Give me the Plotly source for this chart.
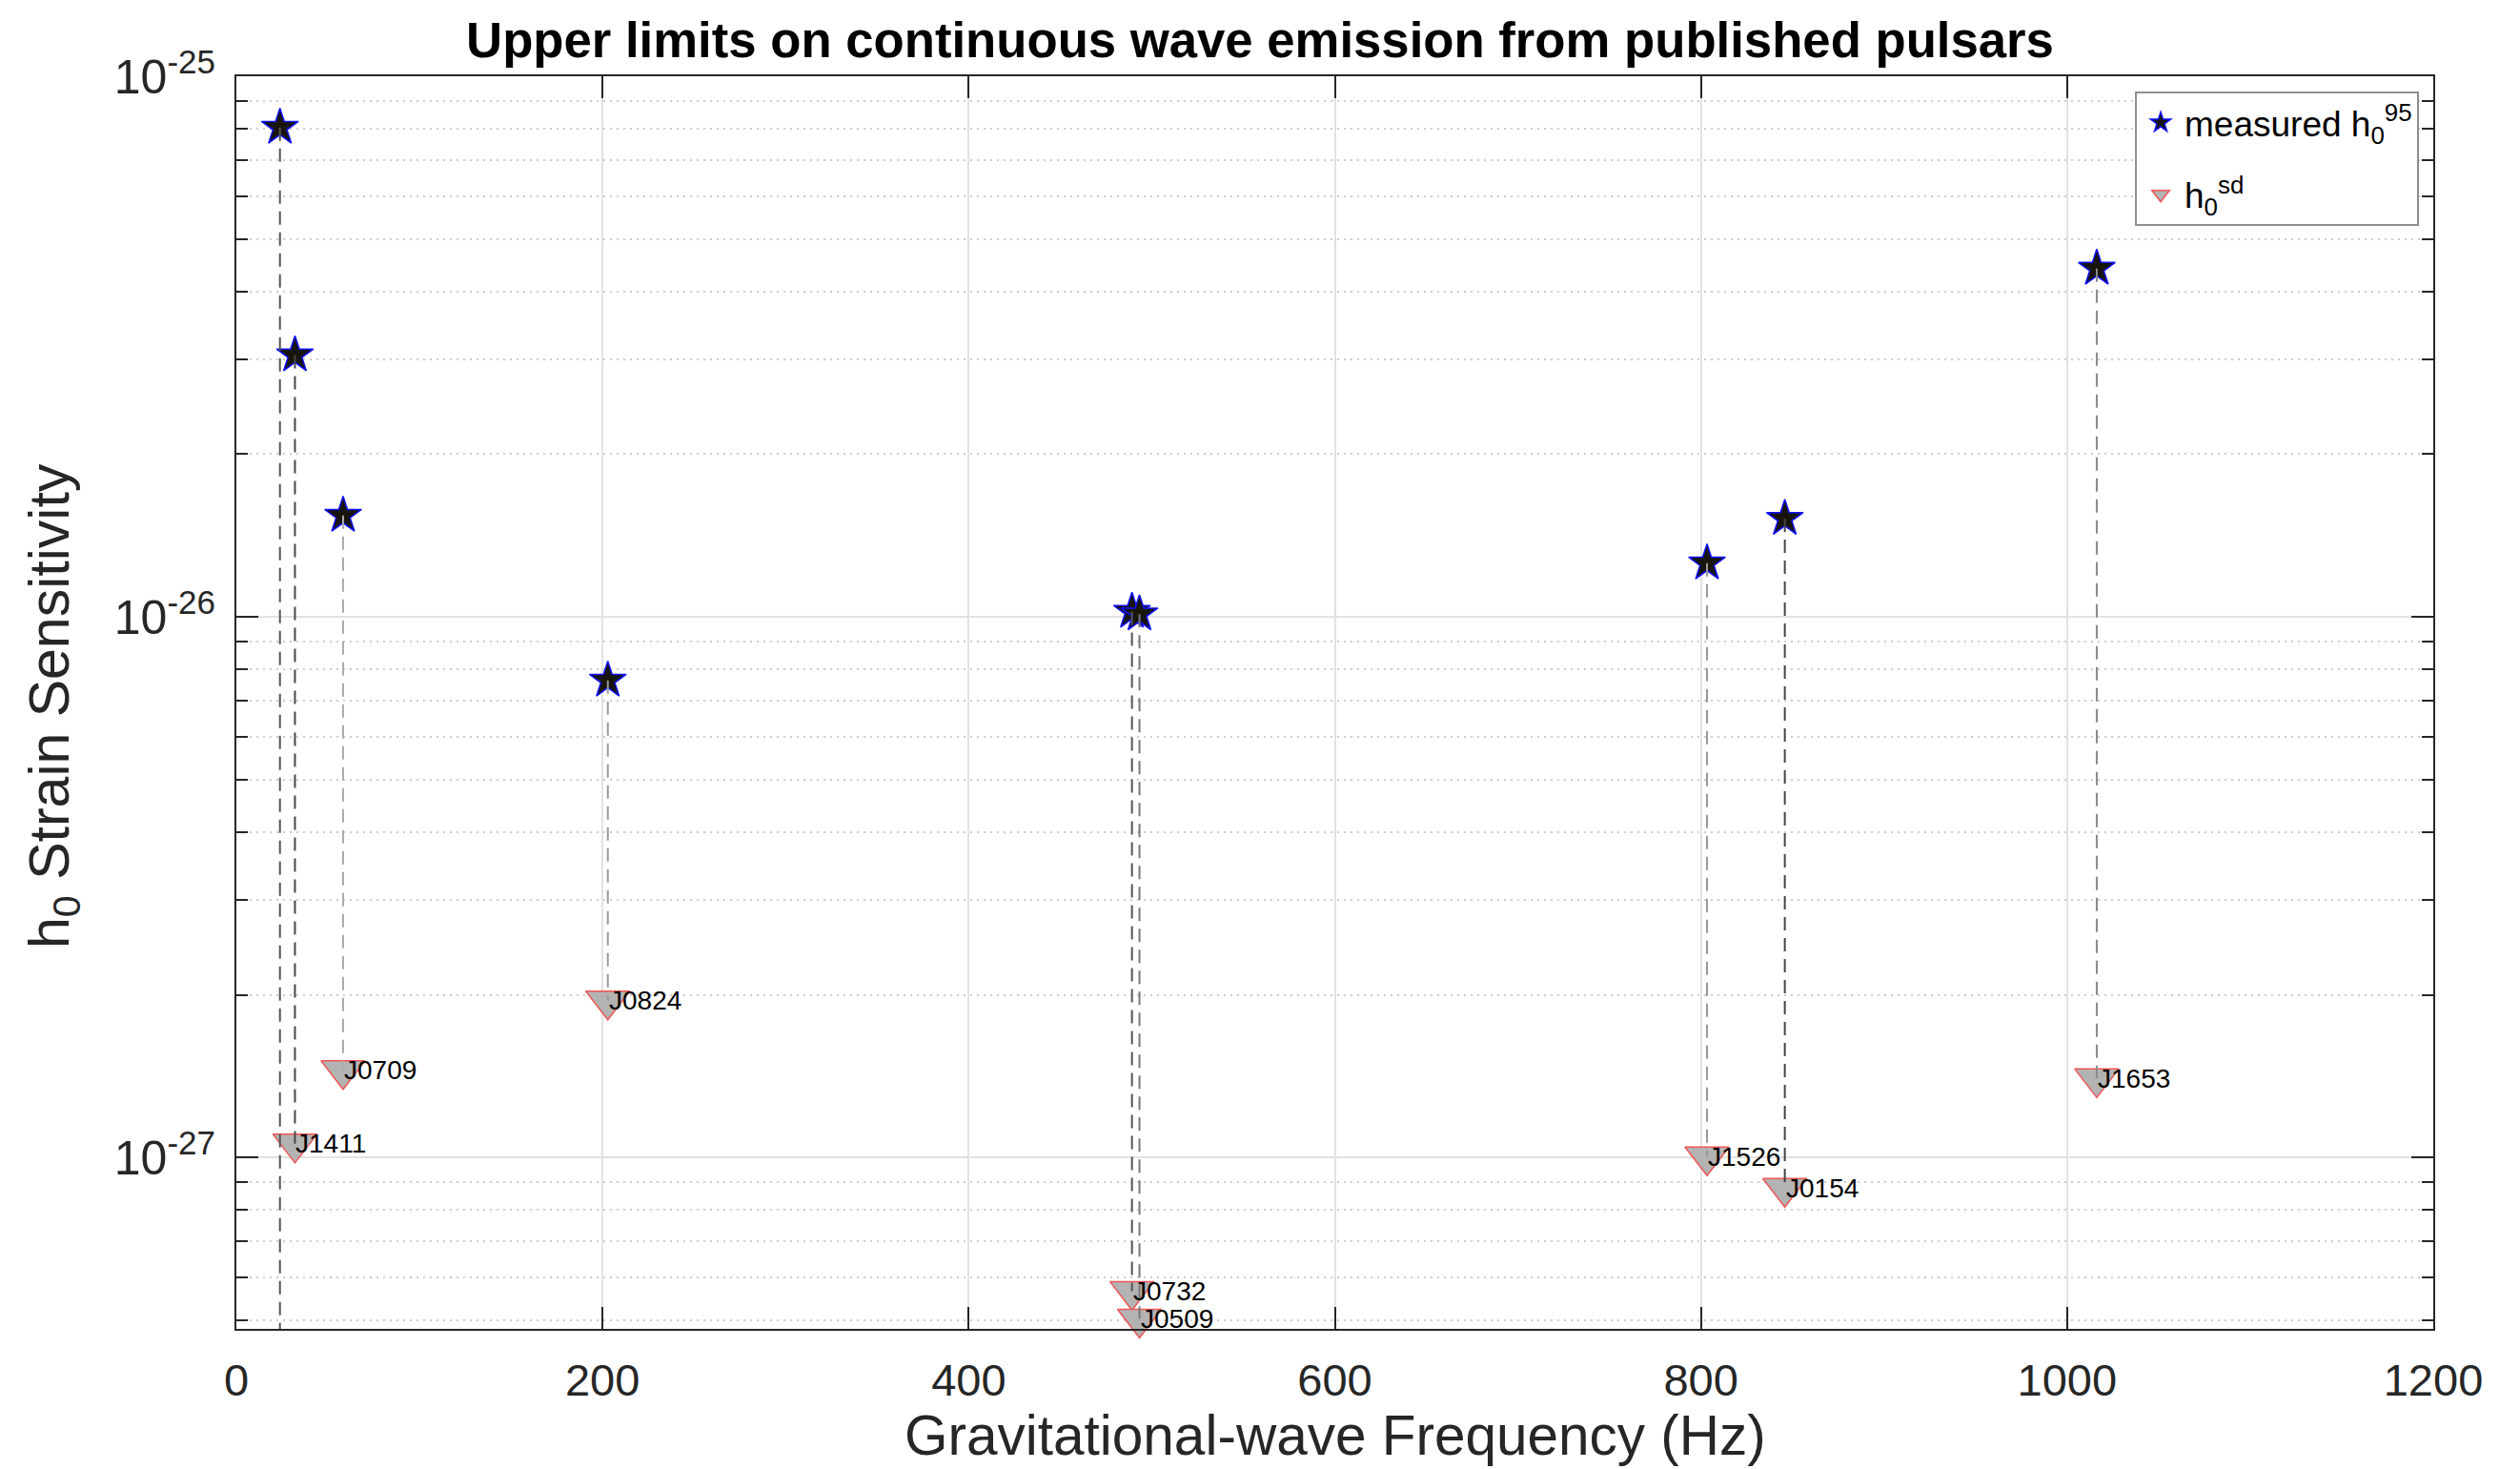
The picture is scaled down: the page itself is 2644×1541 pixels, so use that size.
import numpy as np
import plotly.graph_objects as go

# ---------------- data ----------------
pulsars = ["J2204", "J1411", "J0709", "J0824", "J0732", "J0509", "J1526", "J0154", "J1653"]
freq_hz = [23.8, 32.0, 58.3, 202.9, 489.2, 493.3, 803.3, 845.8, 1016.2]
h0_95 = [8.04e-26, 3.05e-26, 1.54e-26, 7.63e-27, 1.023e-26, 1.012e-26, 1.257e-26, 1.52e-26, 4.41e-26]
h0_sd = [4.72e-28, 1.06e-27, 1.45e-27, 1.95e-27, 5.66e-28, 5.03e-28, 1.004e-27, 8.78e-28, 1.40e-27]

x_ticks = [0, 200, 400, 600, 800, 1000, 1200]
y_ticks = [1e-27, 1e-26, 1e-25]
y_tick_labels = ["10<sup>-27</sup>", "10<sup>-26</sup>", "10<sup>-25</sup>"]

title_text = "Upper limits on continuous wave emission from published pulsars"
x_title = "Gravitational-wave Frequency (Hz)"
y_title = "h<sub>0</sub> Strain Sensitivity"
legend_star = "measured h<sub>0</sub><sup>95</sup>"
legend_tri = "h<sub>0</sub><sup>sd</sup>"

# ---------------- style ----------------
FONT = "Liberation Sans, Arial, Helvetica, sans-serif"
AXIS_COLOR = "#262626"
dash_shades = ["#555555", "#474747", "#ababab", "#9a9a9a", "#555555", "#777777", "#999999", "#444444", "#8a8a8a"]

y_min_log = -27.317
y_max_log = -25.0
minor_vals = [m * 10.0 ** e for e in (-28, -27, -26) for m in range(2, 10)]

fig = go.Figure()

# h0 spin-down triangles
fig.add_trace(go.Scatter(
    x=freq_hz, y=h0_sd, mode="markers", name=legend_tri, legendgroup="sd", legendrank=2,
    marker=dict(symbol="triangle-down", size=40, color="#b3b3b3",
                line=dict(color="#f05555", width=1.5)),
    cliponaxis=False,
))

# measured upper limits (stars)
fig.add_trace(go.Scatter(
    x=freq_hz, y=h0_95, mode="markers", name=legend_star, legendgroup="ul", legendrank=1,
    marker=dict(symbol="star", size=29, color="#17150a",
                line=dict(color="#1010ff", width=1.5)),
    cliponaxis=False,
))

# dashed connectors
for i in range(len(freq_hz)):
    fig.add_trace(go.Scatter(
        x=[freq_hz[i], freq_hz[i]], y=[h0_95[i], h0_sd[i]], mode="lines",
        line=dict(color=dash_shades[i], width=2, dash="14px,8px"),
        showlegend=False, hoverinfo="skip", cliponaxis=False,
    ))

annotations = []
for name, f, h in zip(pulsars, freq_hz, h0_sd):
    annotations.append(dict(
        x=f, y=np.log10(h), xref="x", yref="y", text=name, showarrow=False,
        xanchor="left", yanchor="middle", xshift=-1,
        font=dict(family=FONT, size=28, color="#000000"),
    ))

annotations.append(dict(
    x=0.5, y=-0.0852, xref="paper", yref="paper", text=x_title, showarrow=False,
    xanchor="center", yanchor="middle", font=dict(family=FONT, size=58.5, color=AXIS_COLOR),
))
annotations.append(dict(
    x=-0.0833, y=0.4977, xref="paper", yref="paper", text=y_title, showarrow=False,
    textangle=-90, xanchor="center", yanchor="middle",
    font=dict(family=FONT, size=59, color=AXIS_COLOR),
))

fig.update_layout(
    width=2644, height=1541,
    margin=dict(l=248, r=91, t=80, b=147),
    paper_bgcolor="white", plot_bgcolor="white",
    font=dict(family=FONT, color=AXIS_COLOR),
    title=dict(text=title_text, x=0.5, xref="container", xanchor="center",
               y=1 - 42 / 1541, yref="container", yanchor="middle",
               font=dict(family=FONT, size=52.7, color="#000000", weight="bold")),
    showlegend=True,
    legend=dict(x=0.9935, y=0.9878, xanchor="right", yanchor="top",
                bgcolor="white", bordercolor="#8f8f8f", borderwidth=2,
                font=dict(family=FONT, size=37, color="#000000"),
                tracegroupgap=24, itemwidth=40),
    annotations=annotations,
    xaxis=dict(
        range=[0, 1200], tickmode="array", tickvals=x_ticks,
        ticks="inside", ticklen=23, tickwidth=2, tickcolor=AXIS_COLOR,
        showline=True, linecolor=AXIS_COLOR, linewidth=2, mirror="allticks",
        showgrid=True, gridcolor="#e2e2e2", gridwidth=2, zeroline=False,
        tickfont=dict(family=FONT, size=47, color=AXIS_COLOR),
        ticklabelstandoff=12,
    ),
    yaxis=dict(
        type="log", range=[y_min_log, y_max_log],
        tickmode="array", tickvals=y_ticks, ticktext=y_tick_labels,
        ticks="inside", ticklen=23, tickwidth=2, tickcolor=AXIS_COLOR,
        showline=True, linecolor=AXIS_COLOR, linewidth=2, mirror="allticks",
        showgrid=True, gridcolor="#e2e2e2", gridwidth=2, zeroline=False,
        tickfont=dict(family=FONT, size=50, color=AXIS_COLOR),
        ticklabelstandoff=10,
        minor=dict(tickmode="array", tickvals=minor_vals, ticks="inside", ticklen=12,
                   tickwidth=2, tickcolor=AXIS_COLOR, showgrid=True,
                   gridcolor="#cccccc", griddash="2px,5px", gridwidth=2),
    ),
)

fig.write_html("out.html")
